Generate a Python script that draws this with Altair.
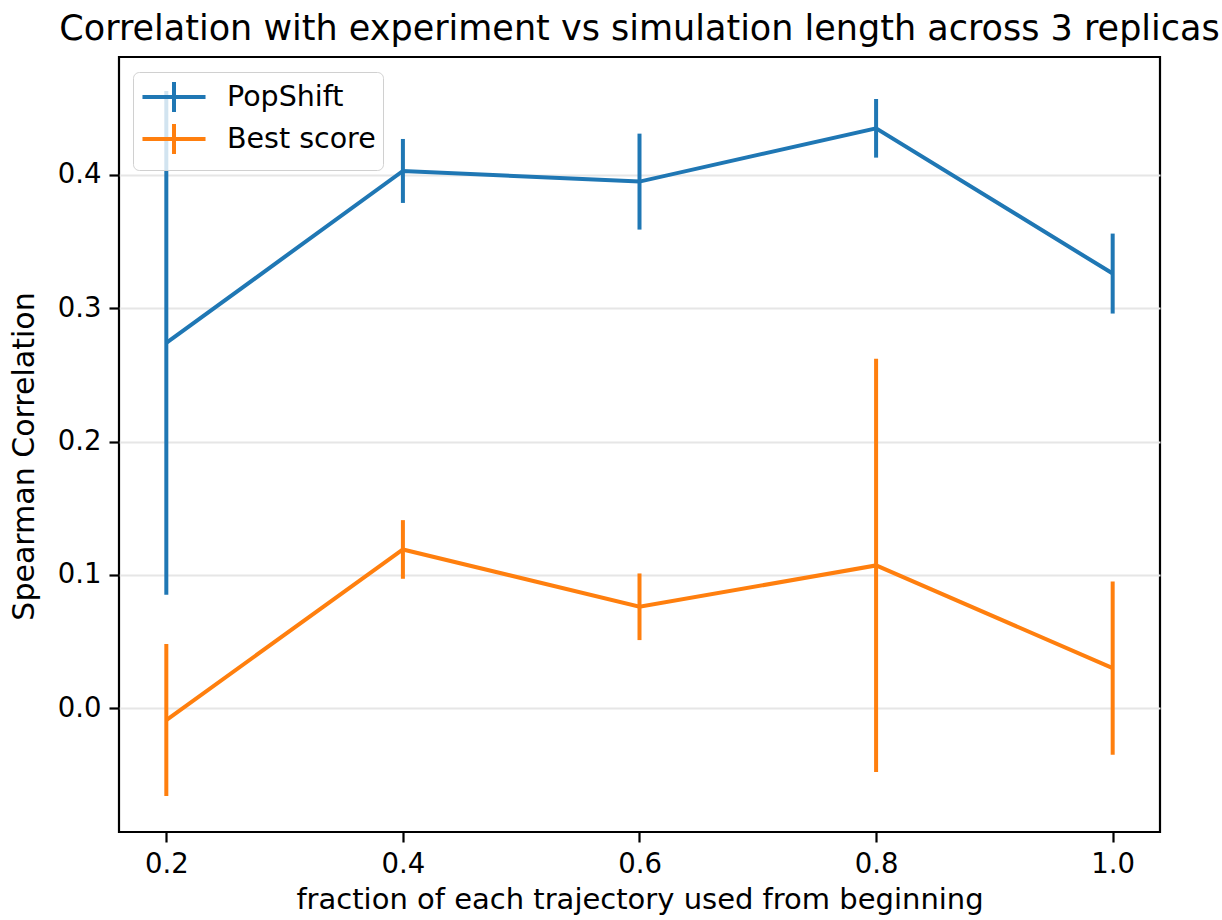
import altair as alt
import pandas as pd

# Fraction of each trajectory used, from the beginning
fraction = [0.2, 0.4, 0.6, 0.8, 1.0]

# Spearman correlation (mean and spread over 3 replicas)
popshift_mean = [0.274, 0.403, 0.395, 0.435, 0.326]
popshift_err = [0.189, 0.024, 0.036, 0.022, 0.030]
best_mean = [-0.009, 0.119, 0.076, 0.107, 0.030]
best_err = [0.057, 0.022, 0.025, 0.155, 0.065]

methods = ["PopShift", "Best score"]
colors = ["#1f77b4", "#ff7f0e"]

rows = []
for name, means, errs in [("PopShift", popshift_mean, popshift_err),
                          ("Best score", best_mean, best_err)]:
    for f, m, e in zip(fraction, means, errs):
        rows.append({"fraction": f, "method": name, "corr": m,
                     "lo": m - e, "hi": m + e})
df = pd.DataFrame(rows)

FONT = "DejaVu Sans"

x_enc = alt.X("fraction:Q",
              scale=alt.Scale(domain=[0.16, 1.04], nice=False, zero=False),
              axis=alt.Axis(values=fraction, format=".1f", grid=False,
                            title="fraction of each trajectory used from beginning"))
y_scale = alt.Scale(domain=[-0.093, 0.4885], nice=False, zero=False)

# errorbar-style legend glyph: long horizontal stroke with a short cap
color_enc = alt.Color("method:N",
                      scale=alt.Scale(domain=methods, range=colors),
                      legend=alt.Legend(
                          title=None, orient="none", legendX=14, legendY=15,
                          symbolType="M-1.97,0H1.97M0,-0.94V0.94",
                          symbolSize=1024, symbolStrokeWidth=4,
                          symbolOffset=16,
                          symbolFillColor="transparent",
                          labelFontSize=28.5, labelFont=FONT, labelColor="black",
                          labelOffset=35, rowPadding=-6,
                          padding=7,
                          fillColor="rgba(255,255,255,0.8)",
                          strokeColor="#d0d0d0", cornerRadius=6))

base = alt.Chart(df)

lines = base.mark_line(strokeWidth=4).encode(
    x=x_enc,
    y=alt.Y("corr:Q", scale=y_scale,
            axis=alt.Axis(values=[0.0, 0.1, 0.2, 0.3, 0.4], format=".1f",
                          title="Spearman Correlation", titleY=399)),
    color=color_enc,
    detail="method:N",
)

bars = base.mark_rule(strokeWidth=4).encode(
    x="fraction:Q",
    y="lo:Q",
    y2="hi:Q",
    color=alt.Color("method:N", scale=alt.Scale(domain=methods, range=colors),
                    legend=None),
)

chart = alt.layer(lines, bars).properties(
    width=1041, height=775,
    padding={"left": 119, "top": 57, "right": 62, "bottom": 88},
    autosize=alt.AutoSizeParams(type="none"),
    background="white",
    title=alt.Title("Correlation with experiment vs simulation length across 3 replicas",
                    font=FONT, fontSize=35, fontWeight="normal", color="black",
                    anchor="middle", offset=10),
).configure_view(
    stroke="black", strokeWidth=2.2
).configure_axis(
    domain=False, tickColor="black", tickWidth=2.2, tickSize=10,
    labelFont=FONT, labelFontSize=27.5, labelColor="black", labelPadding=8,
    titleFont=FONT, titleFontWeight="normal", titleColor="black",
    gridColor="#e6e6e6", gridWidth=2,
).configure_axisY(
    titlePadding=18, titleFontSize=30,
).configure_axisX(
    titlePadding=8, titleFontSize=29,
)

chart.save("out.html", embed_options={"renderer": "svg", "actions": False})
